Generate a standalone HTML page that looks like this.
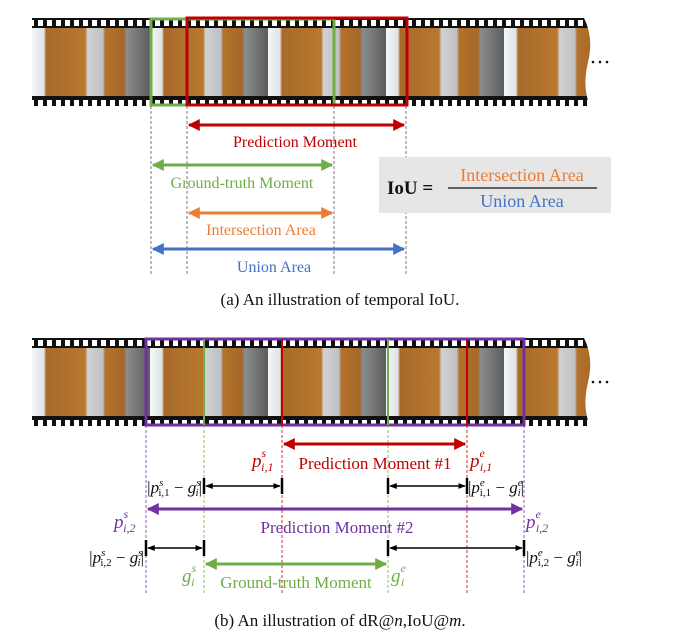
<!DOCTYPE html>
<html><head><meta charset="utf-8">
<style>
html,body{margin:0;padding:0;background:#fff;}
svg{display:block;}
text{font-family:"Liberation Serif",serif;}
</style></head>
<body>
<svg width="688" height="643" viewBox="0 0 688 643" xmlns="http://www.w3.org/2000/svg">
<defs>
  <linearGradient id="wall" x1="0" x2="1">
    <stop offset="0" stop-color="#f4f6f8"/><stop offset="0.1" stop-color="#dfe3e6"/>
    <stop offset="0.12" stop-color="#a86a2a"/><stop offset="0.45" stop-color="#b8782f"/>
    <stop offset="0.47" stop-color="#d0d2d4"/><stop offset="0.6" stop-color="#bfc1c3"/>
    <stop offset="0.62" stop-color="#b4722c"/><stop offset="0.78" stop-color="#a4682a"/>
    <stop offset="0.8" stop-color="#8a8c8e"/><stop offset="1" stop-color="#5a5c5e"/>
  </linearGradient>
  <clipPath id="sc"><path d="M32,0 L584,0 Q594,20 588,44 Q582,70 590,88 L32,88 z"/></clipPath>
  <pattern id="holes" x="0" y="0" width="9" height="10" patternUnits="userSpaceOnUse">
    <rect width="9" height="10" fill="#111"/>
    <rect x="2" y="2" width="5" height="6" fill="#fff"/>
  </pattern>
  <marker id="mr" viewBox="0 0 10 10" refX="9" refY="5" markerWidth="4" markerHeight="4" orient="auto-start-reverse"><path d="M0,0 L10,5 L0,10 z" fill="#c00000"/></marker>
  <marker id="mg" viewBox="0 0 10 10" refX="9" refY="5" markerWidth="4" markerHeight="4" orient="auto-start-reverse"><path d="M0,0 L10,5 L0,10 z" fill="#70ad47"/></marker>
  <marker id="mo" viewBox="0 0 10 10" refX="9" refY="5" markerWidth="4" markerHeight="4" orient="auto-start-reverse"><path d="M0,0 L10,5 L0,10 z" fill="#ed7d31"/></marker>
  <marker id="mb" viewBox="0 0 10 10" refX="9" refY="5" markerWidth="4" markerHeight="4" orient="auto-start-reverse"><path d="M0,0 L10,5 L0,10 z" fill="#4472c4"/></marker>
  <marker id="mp" viewBox="0 0 10 10" refX="9" refY="5" markerWidth="4" markerHeight="4" orient="auto-start-reverse"><path d="M0,0 L10,5 L0,10 z" fill="#7030a0"/></marker>
  <marker id="mk" viewBox="0 0 10 10" refX="9" refY="5" markerWidth="5" markerHeight="5" orient="auto-start-reverse"><path d="M0,1 L10,5 L0,9 z" fill="#000"/></marker>
  <g id="strip">
    <g clip-path="url(#sc)">
      <rect x="32" y="0" width="560" height="11" fill="url(#holes)"/>
      <rect x="32" y="77" width="560" height="11" fill="url(#holes)"/>
      <rect x="32" y="10" width="118" height="68" fill="url(#wall)"/>
      <rect x="150" y="10" width="118" height="68" fill="url(#wall)"/>
      <rect x="268" y="10" width="118" height="68" fill="url(#wall)"/>
      <rect x="386" y="10" width="118" height="68" fill="url(#wall)"/>
      <rect x="504" y="10" width="118" height="68" fill="url(#wall)"/>
    </g>
  </g>
</defs>

<!-- Part (a) -->
<use href="#strip" x="0" y="18"/>
<g fill="#111"><circle cx="593" cy="62" r="1.3"/><circle cx="600" cy="62" r="1.3"/><circle cx="607" cy="62" r="1.3"/></g>
<rect x="151" y="19" width="183" height="86" fill="none" stroke="#70ad47" stroke-width="3"/>
<rect x="187" y="18" width="220" height="87" fill="none" stroke="#c00000" stroke-width="3"/>
<g stroke="#555" stroke-width="0.8" stroke-dasharray="3,2">
  <line x1="151" y1="106" x2="151" y2="275"/><line x1="187" y1="106" x2="187" y2="275"/>
  <line x1="334" y1="106" x2="334" y2="275"/><line x1="406" y1="106" x2="406" y2="275"/>
</g>
<line x1="189" y1="125" x2="404" y2="125" stroke="#c00000" stroke-width="3" marker-start="url(#mr)" marker-end="url(#mr)"/>
<text x="295" y="147" font-size="16" fill="#c00000" text-anchor="middle">Prediction Moment</text>
<line x1="153" y1="165" x2="332" y2="165" stroke="#70ad47" stroke-width="3" marker-start="url(#mg)" marker-end="url(#mg)"/>
<text x="242" y="188" font-size="16" fill="#70ad47" text-anchor="middle">Ground-truth Moment</text>
<line x1="189" y1="213" x2="332" y2="213" stroke="#ed7d31" stroke-width="3" marker-start="url(#mo)" marker-end="url(#mo)"/>
<text x="261" y="235" font-size="16" fill="#ed7d31" text-anchor="middle">Intersection Area</text>
<line x1="153" y1="249" x2="404" y2="249" stroke="#4472c4" stroke-width="3" marker-start="url(#mb)" marker-end="url(#mb)"/>
<text x="274" y="272" font-size="16" fill="#4472c4" text-anchor="middle">Union Area</text>
<rect x="379" y="157" width="232" height="56" fill="#e6e6e6"/>
<text x="387" y="194" font-size="19" font-weight="bold" fill="#111">IoU =</text>
<line x1="448" y1="188" x2="597" y2="188" stroke="#111" stroke-width="1.2"/>
<text x="522" y="181" font-size="18" fill="#ed7d31" text-anchor="middle">Intersection Area</text>
<text x="522" y="207" font-size="18" fill="#4472c4" text-anchor="middle">Union Area</text>
<text x="340" y="305" font-size="17" fill="#111" text-anchor="middle">(a)  An illustration of temporal IoU.</text>

<!-- Part (b) -->
<use href="#strip" x="0" y="338"/>
<g fill="#111"><circle cx="593" cy="382" r="1.3"/><circle cx="600" cy="382" r="1.3"/><circle cx="607" cy="382" r="1.3"/></g>
<rect x="146" y="339" width="378" height="86" fill="none" stroke="#7030a0" stroke-width="3"/>
<line x1="204" y1="339" x2="204" y2="425" stroke="#70ad47" stroke-width="2"/>
<line x1="388" y1="339" x2="388" y2="425" stroke="#70ad47" stroke-width="2"/>
<line x1="282" y1="339" x2="282" y2="425" stroke="#c00000" stroke-width="2"/>
<line x1="467" y1="339" x2="467" y2="425" stroke="#c00000" stroke-width="2"/>
<g stroke-width="0.8" stroke-dasharray="3,2">
  <line x1="146" y1="425" x2="146" y2="595" stroke="#7030a0"/>
  <line x1="524" y1="425" x2="524" y2="595" stroke="#7030a0"/>
  <line x1="204" y1="425" x2="204" y2="595" stroke="#70ad47"/>
  <line x1="388" y1="425" x2="388" y2="595" stroke="#70ad47"/>
  <line x1="282" y1="425" x2="282" y2="595" stroke="#c00000"/>
  <line x1="467" y1="425" x2="467" y2="595" stroke="#c00000"/>
</g>
<line x1="284" y1="444" x2="465" y2="444" stroke="#c00000" stroke-width="3" marker-start="url(#mr)" marker-end="url(#mr)"/>
<text x="252" y="467" font-size="19" fill="#c00000" font-style="italic">p<tspan font-size="12" dy="-10">s</tspan><tspan font-size="12" dx="-5" dy="14">i,1</tspan></text>
<text x="375" y="469" font-size="17" fill="#c00000" text-anchor="middle">Prediction Moment #1</text>
<text x="470" y="467" font-size="19" fill="#c00000" font-style="italic">p<tspan font-size="12" dy="-10">e</tspan><tspan font-size="12" dx="-5" dy="14">i,1</tspan></text>

<g stroke="#000" stroke-width="1.5">
  <line x1="206" y1="486" x2="280" y2="486" marker-start="url(#mk)" marker-end="url(#mk)"/>
  <line x1="390" y1="486" x2="465" y2="486" marker-start="url(#mk)" marker-end="url(#mk)"/>
  <line x1="148" y1="548" x2="202" y2="548" marker-start="url(#mk)" marker-end="url(#mk)"/>
  <line x1="390" y1="548" x2="522" y2="548" marker-start="url(#mk)" marker-end="url(#mk)"/>
</g>
<g stroke="#000" stroke-width="2.5">
  <line x1="204" y1="478" x2="204" y2="494"/><line x1="282" y1="478" x2="282" y2="494"/>
  <line x1="388" y1="478" x2="388" y2="494"/><line x1="467" y1="478" x2="467" y2="494"/>
  <line x1="146" y1="540" x2="146" y2="556"/><line x1="204" y1="540" x2="204" y2="556"/>
  <line x1="388" y1="540" x2="388" y2="556"/><line x1="524" y1="540" x2="524" y2="556"/>
</g>
<text x="202" y="493" font-size="17" fill="#111" text-anchor="end">|<tspan font-style="italic">p</tspan><tspan font-size="11" font-style="italic" dy="-7">s</tspan><tspan font-size="11" dx="-5" dy="10">i,1</tspan><tspan dy="-3"> − </tspan><tspan font-style="italic">g</tspan><tspan font-size="11" font-style="italic" dy="-7">s</tspan><tspan font-size="11" font-style="italic" dx="-5" dy="10">i</tspan><tspan dy="-3">|</tspan></text>
<text x="468" y="493" font-size="17" fill="#111">|<tspan font-style="italic">p</tspan><tspan font-size="11" font-style="italic" dy="-7">e</tspan><tspan font-size="11" dx="-5" dy="10">i,1</tspan><tspan dy="-3"> − </tspan><tspan font-style="italic">g</tspan><tspan font-size="11" font-style="italic" dy="-7">e</tspan><tspan font-size="11" font-style="italic" dx="-5" dy="10">i</tspan><tspan dy="-3">|</tspan></text>

<line x1="148" y1="509" x2="522" y2="509" stroke="#7030a0" stroke-width="3" marker-start="url(#mp)" marker-end="url(#mp)"/>
<text x="114" y="528" font-size="19" fill="#7030a0" font-style="italic">p<tspan font-size="12" dy="-10">s</tspan><tspan font-size="12" dx="-5" dy="14">i,2</tspan></text>
<text x="337" y="533" font-size="17" fill="#7030a0" text-anchor="middle">Prediction Moment #2</text>
<text x="526" y="528" font-size="19" fill="#7030a0" font-style="italic">p<tspan font-size="12" dy="-10">e</tspan><tspan font-size="12" dx="-5" dy="14">i,2</tspan></text>

<text x="144" y="563" font-size="17" fill="#111" text-anchor="end">|<tspan font-style="italic">p</tspan><tspan font-size="11" font-style="italic" dy="-7">s</tspan><tspan font-size="11" dx="-5" dy="10">i,2</tspan><tspan dy="-3"> − </tspan><tspan font-style="italic">g</tspan><tspan font-size="11" font-style="italic" dy="-7">s</tspan><tspan font-size="11" font-style="italic" dx="-5" dy="10">i</tspan><tspan dy="-3">|</tspan></text>
<text x="526" y="563" font-size="17" fill="#111">|<tspan font-style="italic">p</tspan><tspan font-size="11" font-style="italic" dy="-7">e</tspan><tspan font-size="11" dx="-5" dy="10">i,2</tspan><tspan dy="-3"> − </tspan><tspan font-style="italic">g</tspan><tspan font-size="11" font-style="italic" dy="-7">e</tspan><tspan font-size="11" font-style="italic" dx="-5" dy="10">i</tspan><tspan dy="-3">|</tspan></text>

<line x1="206" y1="564" x2="386" y2="564" stroke="#70ad47" stroke-width="3" marker-start="url(#mg)" marker-end="url(#mg)"/>
<text x="182" y="582" font-size="19" fill="#70ad47" font-style="italic">g<tspan font-size="12" dy="-10">s</tspan><tspan font-size="12" dx="-5" dy="14">i</tspan></text>
<text x="296" y="588" font-size="17" fill="#70ad47" text-anchor="middle">Ground-truth Moment</text>
<text x="391" y="582" font-size="19" fill="#70ad47" font-style="italic">g<tspan font-size="12" dy="-10">e</tspan><tspan font-size="12" dx="-5" dy="14">i</tspan></text>

<text x="340" y="626" font-size="17" fill="#111" text-anchor="middle">(b)  An illustration of dR@<tspan font-style="italic">n</tspan>,IoU@<tspan font-style="italic">m</tspan>.</text>
</svg>
</body></html>
